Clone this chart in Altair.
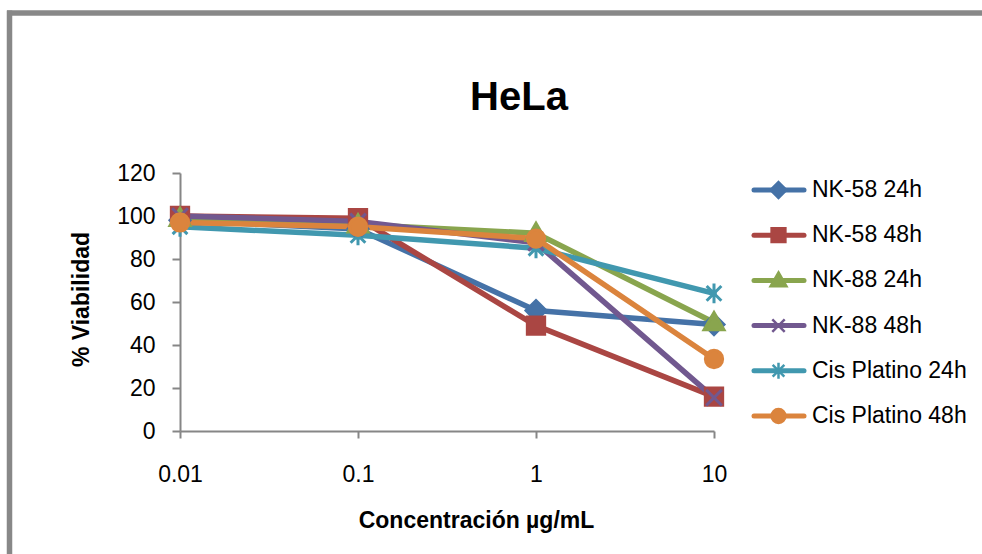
import altair as alt
import pandas as pd

# ---- data ----
conc = [0.01, 0.1, 1, 10]
series = ["NK-58 24h", "NK-58 48h", "NK-88 24h", "NK-88 48h",
          "Cis Platino 24h", "Cis Platino 48h"]
nk58_24 = [98, 94, 56, 49.5]
nk58_48 = [100, 99, 49, 16]
nk88_24 = [99, 96, 92, 50.5]
nk88_48 = [100, 97.5, 87.5, 15.5]
cis_24 = [95, 91, 85, 64]
cis_48 = [97, 95, 89.5, 33.5]
values = [nk58_24, nk58_48, nk88_24, nk88_48, cis_24, cis_48]

colors = ["#4572A7", "#AA4643", "#89A54E", "#71588F", "#4198AF", "#DB843D"]
# marker shapes (unit square -1..1)
shapes = [
    "M0,-1.15L1.15,0L0,1.15L-1.15,0Z",
    "M-1,-1H1V1H-1Z",
    "M0,-1.15L1.15,0.85H-1.15Z",
    "M-0.9,-0.9L0.9,0.9M-0.9,0.9L0.9,-0.9",
    "M-0.85,-0.85L0.85,0.85M-0.85,0.85L0.85,-0.85M0,-1.15V1.15",
    "circle",
]

rows = []
for s, vals in zip(series, values):
    for c, v in zip(conc, vals):
        rows.append({"conc": c, "viab": v, "series": s})
df = pd.DataFrame(rows)
leg_df = pd.DataFrame({"series": series})

FONT = "Liberation Sans"

color_scale = alt.Scale(domain=series, range=colors)
shape_scale = alt.Scale(domain=series, range=shapes)

x = alt.X("conc:Q", scale=alt.Scale(type="log", domain=[0.01, 10], nice=False),
          axis=alt.Axis(values=conc, format="~g", title="Concentración µg/mL",
                        grid=False, tickSize=7, labelPadding=43, labelFlush=False,
                        labelBaseline="alphabetic",
                        titleX=296, titleY=96, titleBaseline="alphabetic",
                        titleFont=FONT, titleFontSize=23, titleFontWeight="bold"))
y = alt.Y("viab:Q", scale=alt.Scale(domain=[0, 120], nice=False),
          axis=alt.Axis(values=[0, 20, 40, 60, 80, 100, 120], title="% Viabilidad",
                        grid=False, tickSize=8, labelPadding=17, labelFlush=False,
                        titleX=-92, titleY=126, titleBaseline="alphabetic",
                        titleFont=FONT, titleFontSize=23, titleFontWeight="bold"))

color = alt.Color("series:N", scale=color_scale, legend=None)
stroke = alt.Stroke("series:N", scale=color_scale, legend=None)
shape = alt.Shape("series:N", scale=shape_scale, legend=None)

base = alt.Chart(df)
lines = base.mark_line(strokeWidth=5.5, strokeJoin="round", strokeCap="round").encode(
    x=x, y=y, color=color, detail="series:N")
points = base.mark_point(filled=True, size=300, strokeWidth=3, opacity=1).encode(
    x=x, y=y, color=color, stroke=stroke, shape=shape,
    order=alt.Order("sidx:Q"),
).transform_calculate(
    sidx="indexof(" + str(series) + ", datum.series)"
)

# legend drawn from the series list
ly = alt.Y("series:N", scale=alt.Scale(type="point", domain=series, range=[17, 243], padding=0),
           axis=None)
leg = alt.Chart(leg_df)
leg_rule = leg.mark_rule(strokeWidth=5, strokeCap="round").encode(
    x=alt.value(574), x2=alt.value(624), y=ly, color=color)
leg_pt = leg.mark_point(filled=True, size=190, strokeWidth=2.5, opacity=1).encode(
    x=alt.value(598.5), y=ly, color=color, stroke=stroke, shape=shape)
leg_txt = leg.mark_text(align="left", baseline="middle", font=FONT, fontSize=23,
                        color="black").encode(
    x=alt.value(632), y=ly, text="series:N")

frame_df = pd.DataFrame({"k": [0]})
frame_top = alt.Chart(frame_df).mark_rule(color="#888888", strokeWidth=5.5).encode(
    x=alt.value(-173), x2=alt.value(830), y=alt.value(-160))
frame_left = alt.Chart(frame_df).mark_rule(color="#888888", strokeWidth=5.5).encode(
    x=alt.value(-170.5), y=alt.value(-162.5), y2=alt.value(420))

chart = alt.layer(
    frame_top, frame_left,
    alt.layer(lines, points),
    alt.layer(leg_rule, leg_pt, leg_txt),
).resolve_scale(
    y="independent"
).properties(
    width=534, height=258,
    title=alt.TitleParams("HeLa", font=FONT, fontSize=40, fontWeight="bold",
                          anchor="middle", frame="group", dx=72, offset=-142,
                          baseline="alphabetic", color="black"),
    autosize=alt.AutoSizeParams(type="none"),
    padding={"left": 180, "top": 173, "right": 268, "bottom": 123},
    background="white",
).configure_axis(
    domainColor="#868686", tickColor="#868686", domainWidth=2, tickWidth=2,
    labelFont=FONT, labelFontSize=23, labelColor="black", titleColor="black",
).configure_view(strokeWidth=0)

chart.save("out.html", embed_options={"renderer": "svg", "actions": False})
